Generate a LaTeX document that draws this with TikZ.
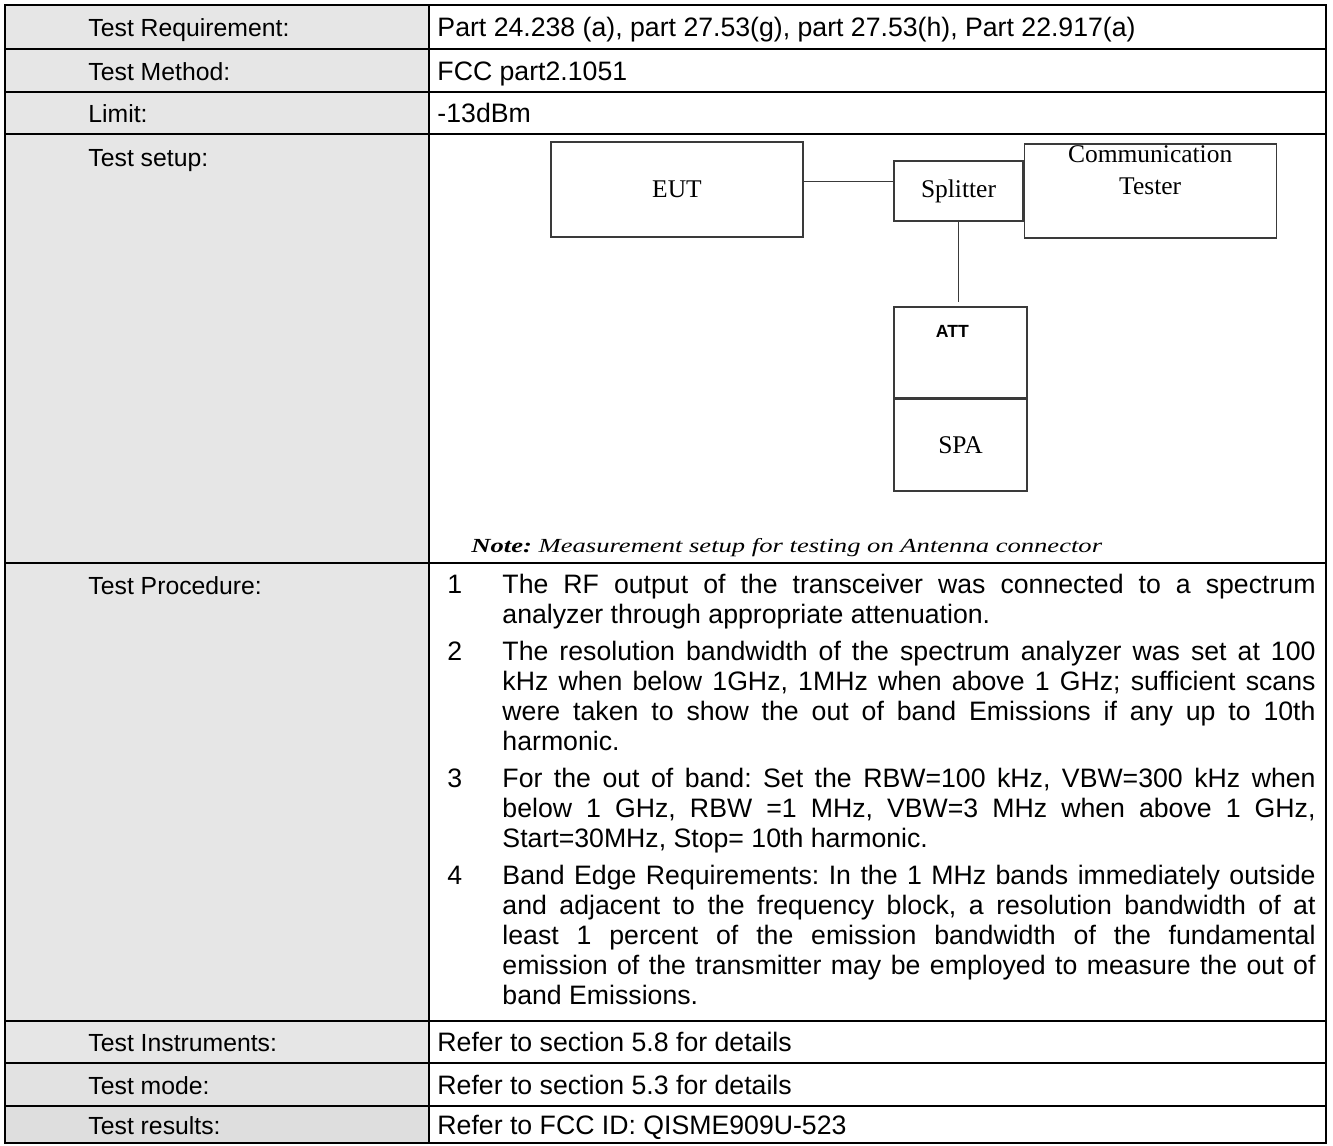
\documentclass[tikz,border=0pt]{standalone}
\usepackage{fontspec}
\setmainfont{Liberation Sans}
\newfontfamily\tnr{Liberation Serif}
\usepackage{graphicx}
\usetikzlibrary{arrows,positioning,shapes,calc}
\definecolor{cellgray}{HTML}{E6E6E6}
\definecolor{cellgrayb}{HTML}{E2E2E2}
\definecolor{cellgrayc}{HTML}{DEDEDE}
\definecolor{boxline}{HTML}{3A3A3A}
\hyphenpenalty=10000
\exhyphenpenalty=10000
\tolerance=10000
\hbadness=10000
\frenchspacing

\begin{document}
\begin{tikzpicture}[x=0.42pt, y=-0.42pt, grid line/.style={line width=0.95pt}, unit node/.style={rectangle,draw=boxline,line width=0.5pt,inner sep=0pt,font=\tnr\fontsize{10.7}{12}\selectfont}, head text/.style={anchor=base west,inner sep=0pt,font=\fontsize{10.4}{11.5}\selectfont}, cell text/.style={anchor=base west,inner sep=0pt,font=\fontsize{11.2}{12.6}\selectfont}, proc text/.style={cell text,text width=341.5pt,align=justify}]
\useasboundingbox (0,0) rectangle (1333,1146);
\fill[cellgray] (5,5) rectangle (429,1063);
\fill[cellgrayb] (5,1063) rectangle (429,1106);
\fill[cellgrayc] (5,1106) rectangle (429,1143);
\draw[grid line] (5,5) rectangle (1326,1143);
\foreach \yy in {49,92,134,563,1021,1063,1106}
  \draw[grid line] (5,\yy) -- (1326,\yy);
\draw[grid line] (429,5) -- (429,1143);
\begin{scope}
\node[head text] (h1) at (88,36.5) {Test Requirement:};
\node[head text] (h2) at (88,80) {Test Method:};
\node[head text] (h3) at (88,122.5) {Limit:};
\node[head text] (h4) at (88,166) {Test setup:};
\node[head text] (h5) at (88,594) {Test Procedure:};
\node[head text] (h6) at (88,1051.5) {Test Instruments:};
\node[head text] (h7) at (88,1094) {Test mode:};
\node[head text] (h8) at (88,1134) {Test results:};
\node[cell text] (c1) at (437,36.5) {Part 24.238 (a), part 27.53(g), part 27.53(h), Part 22.917(a)};
\node[cell text] (c2) at (437,80) {FCC part2.1051};
\node[cell text] (c3) at (437,122.5) {-13dBm};
\node[cell text] (c6) at (437,1051.5) {Refer to section 5.8 for details};
\node[cell text] (c7) at (437,1094) {Refer to section 5.3 for details};
\node[cell text] (c8) at (437,1134) {Refer to FCC ID: QISME909U-523};
\end{scope}
% setup drawing
\begin{scope}
\node[unit node,minimum width=105.8pt,minimum height=39.9pt] (eut) at (677,189.5) {EUT};
\node[unit node,minimum width=54.2pt,minimum height=25.2pt] (spl) at (958.5,191) {Splitter};
\node[unit node,minimum width=105.8pt,minimum height=39.5pt,right=0pt of spl,label={[anchor=center,yshift=-11.3pt,align=center,font=\tnr\fontsize{10.7}{13.3}\selectfont]north:Communication\\Tester}] (ct) {};
\node[unit node,minimum width=55.9pt,minimum height=38.2pt,label={[anchor=center,xshift=-3.4pt,yshift=-10.4pt,font=\bfseries\fontsize{7.4}{9}\selectfont]north:ATT}] (att) at (960.5,352.5) {};
\node[unit node,minimum width=55.9pt,minimum height=38.6pt,below=0pt of att] (spa) {SPA};
\node[anchor=base west,inner sep=0pt] (note) at (471,552) {\scalebox{1.33}[1]{\tnr\fontsize{8.4}{10}\selectfont\textbf{\textit{Note:}} \textit{Measurement setup for testing on Antenna connector}}};
\end{scope}
\begin{scope}[draw=boxline,line width=0.5pt]
\draw ([yshift=3.2pt]eut.east) -- ([yshift=3.2pt]eut.east -| spl.west);
\draw[shorten >=1.7pt] (spl.south) -- (spl.south |- att.north);
\end{scope}
% procedure
\begin{scope}
\node[cell text] (n1) at (447,593) {1};
\node[proc text] (p1) at (502,593) {The RF output of the transceiver was connected to a spectrum\linebreak analyzer through appropriate attenuation.};
\node[cell text] (n2) at (447,660) {2};
\node[proc text] (p2) at (502,660) {The resolution bandwidth of the spectrum analyzer was set at 100\linebreak kHz when below 1GHz, 1MHz when above 1 GHz; sufficient scans\linebreak were taken to show the out of band Emissions if any up to 10th\linebreak harmonic.};
\node[cell text] (n3) at (447,787) {3};
\node[proc text] (p3) at (502,787) {For the out of band: Set the RBW=100 kHz, VBW=300 kHz when\linebreak below 1 GHz, RBW =1 MHz, VBW=3 MHz when above 1 GHz,\linebreak Start=30MHz, Stop= 10th harmonic.};
\node[cell text] (n4) at (447,884) {4};
\node[proc text] (p4) at (502,884) {Band Edge Requirements: In the 1 MHz bands immediately outside\linebreak and adjacent to the frequency block, a resolution bandwidth of at\linebreak least 1 percent of the emission bandwidth of the fundamental\linebreak emission of the transmitter may be employed to measure the out of\linebreak band Emissions.};
\end{scope}
\end{tikzpicture}
\end{document}
